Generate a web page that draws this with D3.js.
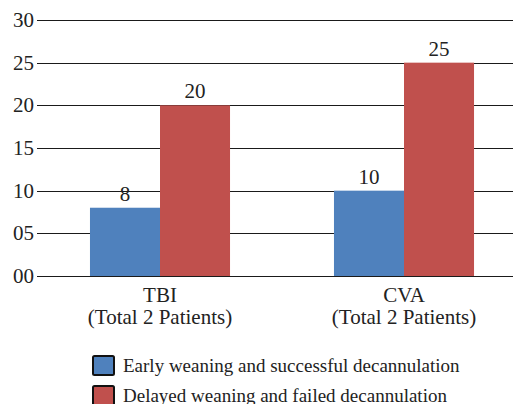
<!DOCTYPE html>
<html><head><meta charset="utf-8">
<script src="https://cdn.jsdelivr.net/npm/d3@7"></script>
<style>body{margin:0;background:#fff}svg{display:block}</style>
</head><body>
<script>
const categories = ["TBI", "CVA"];
const categorySub = ["(Total 2 Patients)", "(Total 2 Patients)"];
const seriesNames = ["Early weaning and successful decannulation", "Delayed weaning and failed decannulation"];
const earlyValues = [8, 10];
const delayedValues = [20, 25];
const yTicks = [0, 5, 10, 15, 20, 25, 30];
const yTickLabels = ["00", "05", "10", "15", "20", "25", "30"];
const colors = ["#4F81BD", "#C0504D"];

const W = 513, H = 404;
const svg = d3.select("body").append("svg").attr("width", W).attr("height", H);
const serif = sel => sel.style("font-family", '"Liberation Serif"').style("fill", "#222");

const y = d3.scaleLinear().domain([0, 30]).range([276, 20]);
const x0 = d3.scaleBand().domain(categories).range([38, 526]).paddingInner(0.426).paddingOuter(0.213);
const x1 = d3.scaleBand().domain([0, 1]).range([0, x0.bandwidth()]);

// gridlines
svg.append("g").selectAll("line").data(yTicks).join("line")
  .attr("x1", 37).attr("x2", W)
  .attr("y1", d => Math.round(y(d)) + 0.5).attr("y2", d => Math.round(y(d)) + 0.5)
  .attr("stroke", "#1a1a1a").attr("stroke-width", 1);

svg.append("g").selectAll("text").data(yTicks).join("text")
  .attr("x", 34).attr("y", d => y(d) + 7)
  .attr("text-anchor", "end").style("font-size", "21px").call(serif)
  .text((d, i) => yTickLabels[i]);

const series = [earlyValues, delayedValues];
const g = svg.append("g");
series.forEach((vals, si) => {
  g.append("g").selectAll("rect").data(vals).join("rect")
    .attr("x", (d, i) => x0(categories[i]) + x1(si))
    .attr("y", d => y(d))
    .attr("width", x1.bandwidth())
    .attr("height", d => y(0) - y(d))
    .attr("fill", colors[si]);
  g.append("g").selectAll("text").data(vals).join("text")
    .attr("x", (d, i) => x0(categories[i]) + x1(si) + x1.bandwidth() / 2)
    .attr("y", d => y(d) - 7)
    .attr("text-anchor", "middle").style("font-size", "21px").call(serif)
    .text(d => d);
});

// redraw baseline over bars
svg.append("line").attr("x1", 37).attr("x2", W).attr("y1", Math.round(y(0)) + 0.5).attr("y2", Math.round(y(0)) + 0.5)
  .attr("stroke", "#1a1a1a").attr("stroke-width", 1);

// category labels
const cat = svg.append("g").selectAll("g").data(categories).join("g");
cat.append("text").attr("x", d => x0(d) + x0.bandwidth() / 2).attr("y", 302)
  .attr("text-anchor", "middle").style("font-size", "21px").call(serif).text(d => d);
cat.append("text").attr("x", d => x0(d) + x0.bandwidth() / 2).attr("y", 324)
  .attr("text-anchor", "middle").style("font-size", "21px").call(serif).text((d, i) => categorySub[i]);

// legend
const lg = svg.append("g").selectAll("g").data(seriesNames).join("g")
  .attr("transform", (d, i) => `translate(93, ${356 + i * 30})`);
lg.append("rect").attr("width", 21).attr("height", 19).attr("rx", 1.5)
  .attr("fill", (d, i) => colors[i]).attr("stroke", "#111").attr("stroke-width", 2);
lg.append("text").attr("x", 30).attr("y", 16).style("font-size", "19px").call(serif).text(d => d);
</script>
</body></html>
